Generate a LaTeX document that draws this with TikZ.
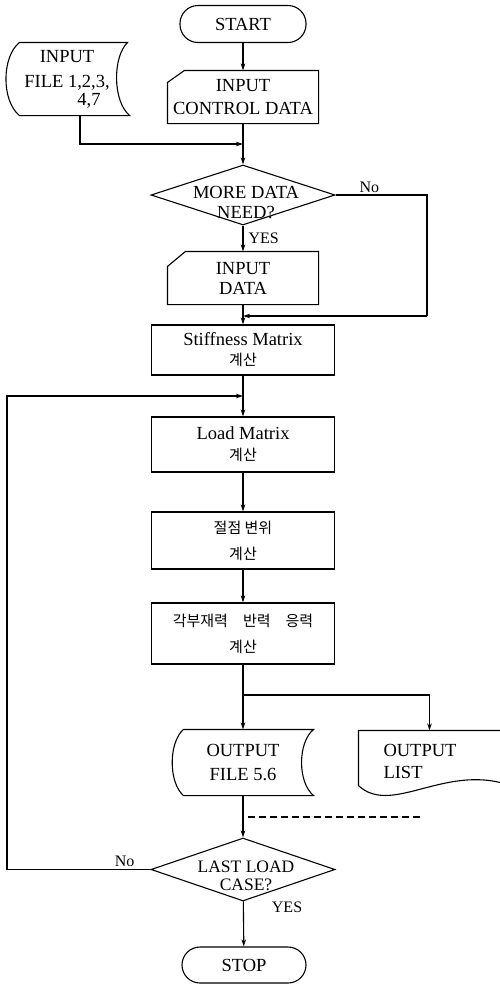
\documentclass[tikz,border=0pt]{standalone}
\usepackage{fontspec}
\setmainfont{Liberation Serif}
\newfontfamily\kr{Noto Sans CJK KR}
\usetikzlibrary{arrows.meta,positioning,calc,shapes.geometric}

\newcommand\kor[1]{{\kr\fontsize{15pt}{17pt}\selectfont #1}}

\tikzset{
  terminal/.style={draw,rectangle,rounded corners=18pt,minimum width=126pt,minimum height=37pt,inner sep=2pt},
  cardbox/.style={rectangle,minimum width=150pt,minimum height=52pt,align=center,inner sep=2pt},
  stored/.style={rectangle,align=center,inner sep=2pt},
  procbox/.style={draw,rectangle,minimum width=183pt,minimum height=54pt,align=center,inner sep=2pt},
  decision/.style={draw,diamond,inner sep=0pt,minimum width=184pt,minimum height=60pt},
  txt/.style={align=center,inner sep=1pt},
  lbl/.style={inner sep=2pt,font=\fontsize{16pt}{18pt}\selectfont}
}

\begin{document}
\begin{tikzpicture}[x=1pt,y=-1pt,>={Stealth[length=7pt,width=4.5pt]},line width=1.1pt,
  font=\fontsize{18.5pt}{20pt}\selectfont]
  \useasboundingbox (0,0) rectangle (500,986);

  % start and input
  \node[terminal] (start) at (243,24) {START};
  \node[cardbox] (ctl) at (243,97) {INPUT\\[3pt]CONTROL DATA};
  \draw (ctl.south west) -- ([yshift=-12pt]ctl.north west) -- ([xshift=17pt]ctl.north west)
    -- (ctl.north east) -- (ctl.south east) -- cycle;
  \node[stored,minimum width=122pt,minimum height=72pt] (infile) at (67,79)
    {INPUT\\[5pt]FILE 1,2,3,\\[-2pt]\hspace*{44pt}4,7};
  \draw ([xshift=14pt]infile.north west) -- ([xshift=-1pt]infile.north east)
    .. controls ([xshift=-16pt,yshift=22pt]infile.east) and ([xshift=-16pt,yshift=-22pt]infile.east)
    .. ([xshift=1pt]infile.south east)
    -- ([xshift=14pt]infile.south west)
    .. controls ([xshift=-4pt,yshift=-22pt]infile.west) and ([xshift=-4pt,yshift=22pt]infile.west) .. cycle;
  \coordinate (injoin) at (243,144);

  % first decision
  \node[decision] (more) at (243,195) {};
  \node[txt] (moreq) at (246,203) {MORE DATA\\NEED?};
  \node[cardbox] (indata) at (243,278) {INPUT\\DATA};
  \draw (indata.south west) -- ([yshift=-15pt]indata.north west) -- ([xshift=18pt]indata.north west)
    -- (indata.north east) -- (indata.south east) -- cycle;
  \coordinate (nojoin) at (427,316);

  % calculation steps
  \node[procbox,minimum height=50pt] (stiff) at (243,350) {Stiffness Matrix\\[0pt]\kor{계산}};
  \node[procbox,minimum height=55pt] (load) at (243,444.5) {Load Matrix\\[1pt]\kor{계산}};
  \node[procbox,minimum height=57pt] (disp) at (243,540.5) {\kor{절점 변위}\\[6pt]\kor{계산}};
  \node[procbox,minimum height=61pt] (force) at (243,633.5) {\kor{각부재력\quad 반력\quad 응력}\\[6pt]\kor{계산}};
  \coordinate (split) at (243,695);
  \coordinate (loopcorner) at (7,396);

  % outputs
  \node[stored,minimum width=140pt,minimum height=65pt] (outfile) at (243,762.5) {OUTPUT\\[4pt]FILE 5.6};
  \draw ([xshift=11pt]outfile.north west) -- (outfile.north east)
    .. controls ([xshift=-16pt,yshift=20pt]outfile.east) and ([xshift=-16pt,yshift=-20pt]outfile.east)
    .. (outfile.south east)
    -- ([xshift=11pt]outfile.south west)
    .. controls ([xshift=-4pt,yshift=-20pt]outfile.west) and ([xshift=-4pt,yshift=20pt]outfile.west) .. cycle;
  \node[minimum width=141pt,minimum height=54pt,inner sep=0pt] (outlist) at (429.5,758) {};
  \node[txt,align=left] (listtxt) at (420,761) {OUTPUT\\[2pt]LIST};
  \draw (outlist.south west) -- (outlist.north west) -- (outlist.north east)
    -- ([yshift=3pt]outlist.south east) .. controls (440,768) and (390,815) .. (outlist.south west);
  \coordinate (dashend) at (420,817);

  % last decision and stop
  \node[decision,minimum height=63pt] (last) at (243,869.5) {};
  \node[txt,font=\fontsize{17.5pt}{18pt}\selectfont] (lastq) at (246,876) {LAST LOAD\\CASE?};
  \node[terminal,minimum width=124pt,minimum height=36pt] (stop) at (244,965) {STOP};

  % connectors
  \draw[->] (start) -- (ctl);
  \draw[->] ([xshift=13pt]infile.south) |- (injoin);
  \draw[->] (ctl) -- (more);
  \draw[->] (more) -- node[lbl,right,xshift=3pt]{YES} (indata);
  \draw (more.east) -- node[lbl,above,pos=0.37]{No} (more.east -| nojoin) -- (nojoin);
  \draw[->] (nojoin) -- (nojoin -| stiff.north);
  \draw[->] (indata) -- (stiff);
  \draw[->] (stiff) -- (load);
  \draw[->] (last.west) -- node[lbl,above,pos=0.18]{No} (last.west -| loopcorner)
    -- (loopcorner) -- (loopcorner -| load.north);
  \draw[->] (load) -- (disp);
  \draw[->] (disp) -- (force);
  \draw[->] (force) -- (outfile);
  \draw[->] (split) -| (outlist.north);
  \draw[dashed,dash pattern=on 7pt off 4pt] (dashend) -- (dashend -| last.north);
  \draw[->] (outfile) -- (last);
  \draw[->] (last) -- node[lbl,right,pos=0.12,xshift=26pt]{YES} (stop);
\end{tikzpicture}
\end{document}
